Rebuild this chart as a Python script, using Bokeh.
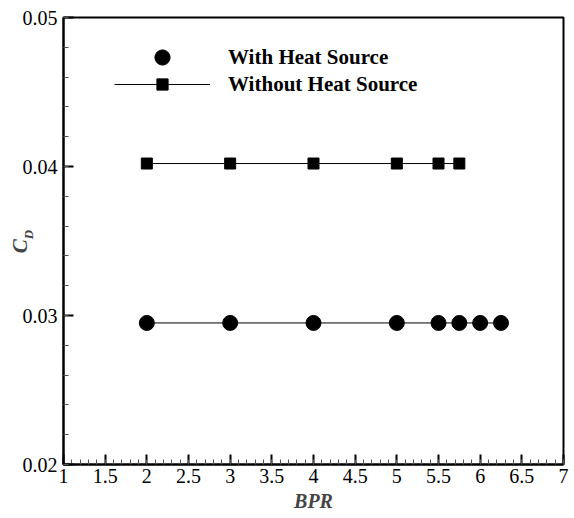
from bokeh.plotting import figure
from bokeh.models import Range1d, FixedTicker, Legend, LegendItem, LinearAxis
from bokeh.embed import file_html
from bokeh.resources import INLINE

# Data
bpr_heat = [2, 3, 4, 5, 5.5, 5.75, 6, 6.25]
cd_heat = [0.0295, 0.0295, 0.0295, 0.0295, 0.0295, 0.0295, 0.0295, 0.0295]
bpr_noheat = [2, 3, 4, 5, 5.5, 5.75]
cd_noheat = [0.0402, 0.0402, 0.0402, 0.0402, 0.0402, 0.0402]
x_ticks = [1, 1.5, 2, 2.5, 3, 3.5, 4, 4.5, 5, 5.5, 6, 6.5, 7]
x_tick_labels = ["1", "1.5", "2", "2.5", "3", "3.5", "4", "4.5", "5", "5.5", "6", "6.5", "7"]
y_ticks = [0.02, 0.03, 0.04, 0.05]
y_tick_labels = ["0.02", "0.03", "0.04", "0.05"]

FONT = "Liberation Serif"

p = figure(width=574, height=518, output_backend="svg", toolbar_location=None,
           x_range=Range1d(1, 7), y_range=Range1d(0.02, 0.05),
           min_border_left=63, min_border_right=11, min_border_top=17, min_border_bottom=54)
p.grid.visible = False
p.background_fill_color = "white"
p.border_fill_color = "white"
p.outline_line_color = "black"
p.outline_line_width = 2

xax = p.xaxis[0]
yax = p.yaxis[0]
for ax in (xax, yax):
    ax.axis_line_width = 2
    ax.axis_line_color = "black"
    ax.major_tick_in = 10
    ax.major_tick_out = 0
    ax.minor_tick_in = 5
    ax.minor_tick_out = 0
    ax.major_tick_line_width = 2
    ax.minor_tick_line_width = 1
    ax.major_tick_line_color = "black"
    ax.minor_tick_line_color = "#555555"
    ax.major_label_text_font = FONT
    ax.major_label_text_font_size = "20px"
    ax.major_label_text_color = "black"

xax.major_label_standoff = 4
yax.major_label_standoff = 6

xax.ticker = FixedTicker(ticks=x_ticks, minor_ticks=[1 + 0.1 * i for i in range(61)])
xax.major_label_overrides = {t: l for t, l in zip(x_ticks, x_tick_labels)}
yax.ticker = FixedTicker(ticks=y_ticks, minor_ticks=[0.02 + 0.002 * i for i in range(16)])
yax.major_label_overrides = {t: l for t, l in zip(y_ticks, y_tick_labels)}

xax.axis_label = "BPR"
xax.axis_label_text_font = FONT
xax.axis_label_text_font_style = "bold italic"
xax.axis_label_text_font_size = "20px"
xax.axis_label_standoff = 4

# Y label C_D: subscript "D" on the main axis, "C" on an outer label-only axis
yax.axis_label = "\u2003D"
yax.axis_label_text_font = FONT
yax.axis_label_text_font_style = "bold italic"
yax.axis_label_text_font_size = "13px"
yax.axis_label_standoff = -16

cax = LinearAxis(ticker=FixedTicker(ticks=[]), axis_line_color=None,
                 major_tick_line_color=None, minor_tick_line_color=None,
                 major_tick_in=0, major_tick_out=0, minor_tick_in=0, minor_tick_out=0,
                 major_label_text_font_size="0px")
cax.axis_label = "C\u2002"
cax.axis_label_text_font = FONT
cax.axis_label_text_font_style = "bold italic"
cax.axis_label_text_font_size = "21px"
cax.axis_label_standoff = -14
p.add_layout(cax, "left")

# Series
l_heat = p.line(bpr_heat, cd_heat, line_color="black", line_width=1)
s_heat = p.scatter(bpr_heat, cd_heat, marker="circle", size=15, fill_color="black", line_color="black")
l_no = p.line(bpr_noheat, cd_noheat, line_color="black", line_width=1)
s_no = p.scatter(bpr_noheat, cd_noheat, marker="square", size=11, fill_color="black", line_color="black")


def make_legend(items, loc, gh):
    lg = Legend(items=items, location=loc, orientation="vertical")
    lg.border_line_color = None
    lg.background_fill_alpha = 0
    lg.padding = 0
    lg.margin = 0
    lg.spacing = 0
    lg.glyph_width = 96
    lg.glyph_height = gh
    lg.label_height = gh
    lg.label_standoff = 18
    lg.label_text_font = FONT
    lg.label_text_font_style = "bold"
    lg.label_text_font_size = "21px"
    lg.label_text_color = "black"
    lg.label_text_baseline = "middle"
    return lg


p.add_layout(make_legend([LegendItem(label="With Heat Source", renderers=[s_heat])], (51, 388), 38))
p.add_layout(make_legend([LegendItem(label="Without Heat Source", renderers=[l_no, s_no])], (51, 366), 28))

open("out.html", "w").write(file_html(p, INLINE))
